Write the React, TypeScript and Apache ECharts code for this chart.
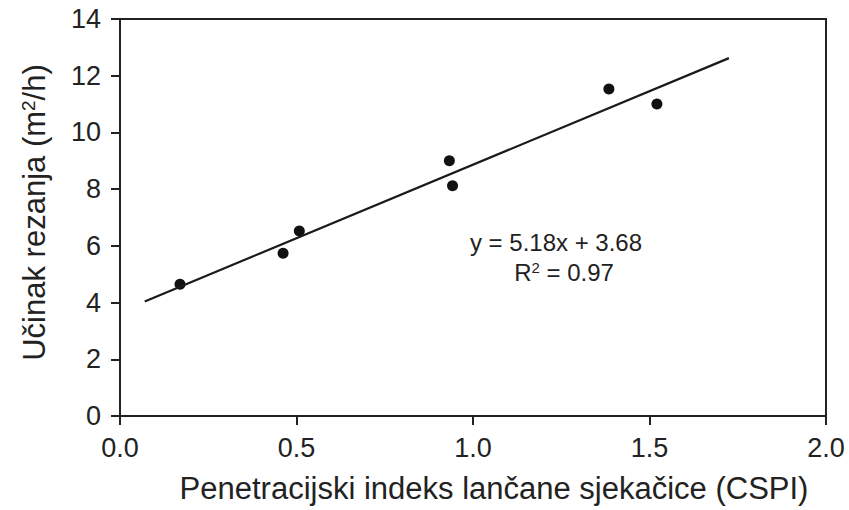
import React, { useEffect, useRef } from "react";
import * as echarts from "echarts";

const pointsX = [0.17, 0.462, 0.508, 0.933, 0.942, 1.385, 1.521];
const pointsY = [4.65, 5.74, 6.52, 9.0, 8.12, 11.53, 11.0];
const fitLine = [
  [0.07, 4.04],
  [1.725, 12.62],
];
const xTicks = ["0.0", "0.5", "1.0", "1.5", "2.0"];
const yTicks = ["0", "2", "4", "6", "8", "10", "12", "14"];

const FONT = "'Liberation Sans', Arial, sans-serif";
const TXT = "#222";

export default function App() {
  const ref = useRef<HTMLDivElement>(null);
  useEffect(() => {
    if (!ref.current) return;
    const chart = echarts.init(ref.current, undefined, { renderer: "svg" });
    const scatterData = pointsX.map((x, i) => [x, pointsY[i]]);
    chart.setOption({
      animation: false,
      backgroundColor: "#fff",
      textStyle: { fontFamily: FONT },
      grid: {
        left: 120,
        right: 23,
        top: 19,
        bottom: 94,
        show: true,
        borderColor: TXT,
        borderWidth: 2,
        containLabel: false,
      },
      xAxis: {
        type: "value",
        min: 0,
        max: 2,
        interval: 0.5,
        name: "Penetracijski indeks lančane sjekačice (CSPI)",
        nameLocation: "middle",
        nameGap: 57,
        nameTextStyle: { fontSize: 31, color: TXT, fontFamily: FONT, padding: [0, 0, 0, 42] },
        axisLine: { show: true, onZero: false, lineStyle: { color: TXT, width: 2 } },
        axisTick: { show: true, inside: false, length: 9, lineStyle: { color: TXT, width: 2 } },
        axisLabel: {
          show: true,
          fontSize: 27,
          color: TXT,
          margin: 18,
          fontFamily: FONT,
          formatter: (v: number) => xTicks[Math.round(v / 0.5)] ?? "",
        },
        splitLine: { show: false },
      },
      yAxis: {
        type: "value",
        min: 0,
        max: 14,
        interval: 2,
        name: "Učinak rezanja (m{sup|2}/h)",
        nameLocation: "middle",
        nameGap: 70,
        nameRotate: 90,
        nameTextStyle: {
          fontSize: 31,
          color: TXT,
          fontFamily: FONT,
          padding: [0, 0, 0, 10],
          rich: {
            sup: { fontSize: 19, color: TXT, fontFamily: FONT, verticalAlign: "top", padding: [0, 0, 10, 0] },
          },
        },
        axisLine: { show: true, onZero: false, lineStyle: { color: TXT, width: 2 } },
        axisTick: { show: true, inside: false, length: 9, lineStyle: { color: TXT, width: 2 } },
        axisLabel: {
          show: true,
          fontSize: 27,
          color: TXT,
          margin: 19,
          fontFamily: FONT,
          formatter: (v: number) => yTicks[Math.round(v / 2)] ?? "",
        },
        splitLine: { show: false },
      },
      series: [
        {
          type: "line",
          data: fitLine,
          symbol: "none",
          lineStyle: { color: "#1a1a1a", width: 2.2 },
          silent: true,
        },
        {
          type: "scatter",
          data: scatterData,
          symbolSize: 11,
          itemStyle: { color: "#111", opacity: 1 },
        },
      ],
      graphic: [
        {
          type: "text",
          x: 556,
          y: 242,
          style: {
            text: "y = 5.18x + 3.68",
            fontSize: 24,
            fontFamily: FONT,
            fill: TXT,
            align: "center",
            verticalAlign: "middle",
          },
        },
        {
          type: "text",
          x: 564,
          y: 272,
          style: {
            text: "R{sup|2} = 0.97",
            fontSize: 24,
            fontFamily: FONT,
            fill: TXT,
            align: "center",
            verticalAlign: "middle",
            rich: {
              sup: { fontSize: 15, fontFamily: FONT, fill: TXT, verticalAlign: "top", padding: [0, 0, 10, 0] },
            },
          },
        },
      ],
    });
    return () => chart.dispose();
  }, []);
  return (
    <div
      ref={ref}
      style={{ position: "fixed", left: 0, top: 0, width: 849, height: 510, background: "#fff" }}
    />
  );
}
